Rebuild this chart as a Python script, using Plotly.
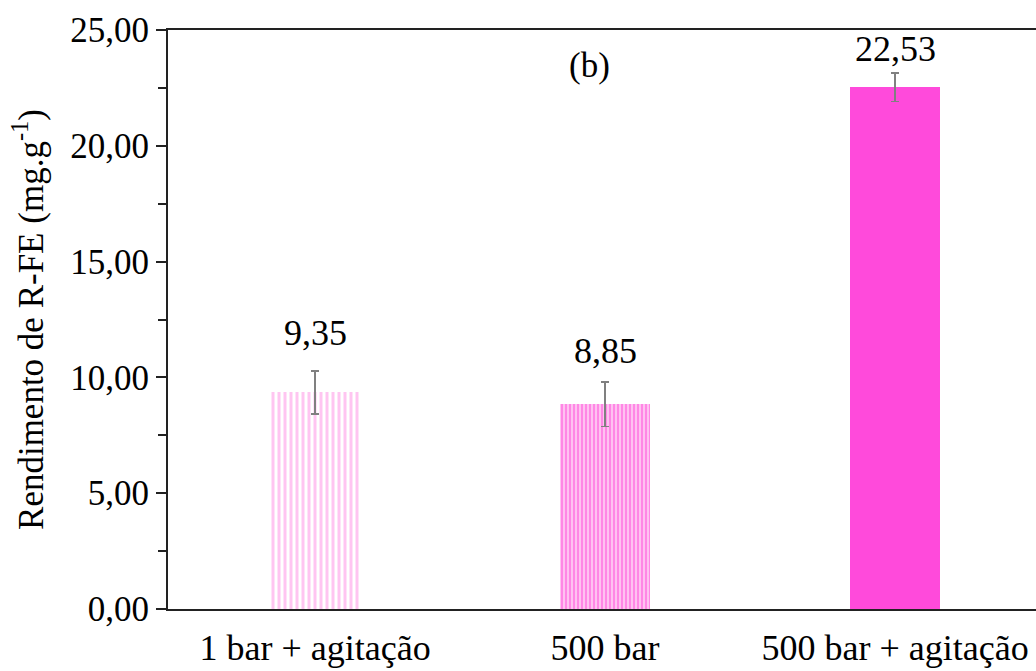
import plotly.graph_objects as go

categories = ["1 bar + agitação", "500 bar", "500 bar + agitação"]
values = [9.35, 8.85, 22.53]
errors = [0.93, 0.96, 0.62]
value_labels = ["9,35", "8,85", "22,53"]

label_shift = [38, 31, 24]
FONT = "Times New Roman"

fig = go.Figure()

patterns = [
    dict(shape="|", fgcolor="#FF8CE4", bgcolor="white", size=6, solidity=0.5, fillmode="overlay"),
    dict(shape="|", fgcolor="#FF3ED6", bgcolor="#FFD0F4", size=4, solidity=0.6, fillmode="overlay"),
    dict(shape=""),
]
colors = ["white", "white", "#FF4ADB"]

for i, (c, v, e) in enumerate(zip(categories, values, errors)):
    fig.add_trace(go.Bar(
        x=[i], y=[v],
        width=0.31,
        marker=dict(color=colors[i], line=dict(width=0), pattern=patterns[i]),
        error_y=dict(type="data", array=[e], visible=True, color="#808080", thickness=1.5, width=4),
        showlegend=False,
    ))

for i, (v, e, t) in enumerate(zip(values, errors, value_labels)):
    fig.add_annotation(x=i, y=v + e, text=t, showarrow=False, yanchor="middle",
                       yshift=label_shift[i], font=dict(family=FONT, size=36, color="black"))

fig.add_annotation(x=0.486, y=0.975, xref="paper", yref="paper", text="(b)", showarrow=False,
                   font=dict(family=FONT, size=35, color="black"))

fig.update_layout(
    width=1036, height=671,
    margin=dict(l=168, r=0, t=30, b=62),
    paper_bgcolor="white", plot_bgcolor="white",
    separators=",.",
    font=dict(family=FONT, size=35, color="black"),
    bargap=0,
)
fig.update_xaxes(
    tickmode="array", tickvals=[0, 1, 2], ticktext=categories,
    range=[-0.507, 2.486],
    showline=True, linecolor="#222", linewidth=2, mirror=True,
    ticks="", showgrid=False, zeroline=False, ticklabelstandoff=6,
    tickfont=dict(family=FONT, size=36, color="black"),
)
fig.update_yaxes(
    range=[0, 25], dtick=5, tickformat=".2f",
    showline=True, linecolor="#222", linewidth=2,
    ticks="outside", ticklen=10, tickwidth=2, tickcolor="#222",
    minor=dict(dtick=2.5, ticks="outside", ticklen=8, tickwidth=2, tickcolor="#222"),
    showgrid=False, zeroline=False,
    tickfont=dict(family=FONT, size=35, color="black"),
    title=dict(text="Rendimento de R-FE (mg.g<sup>-1</sup>)", font=dict(family=FONT, size=35, color="black"), standoff=16),
)

fig.write_html("out.html")
